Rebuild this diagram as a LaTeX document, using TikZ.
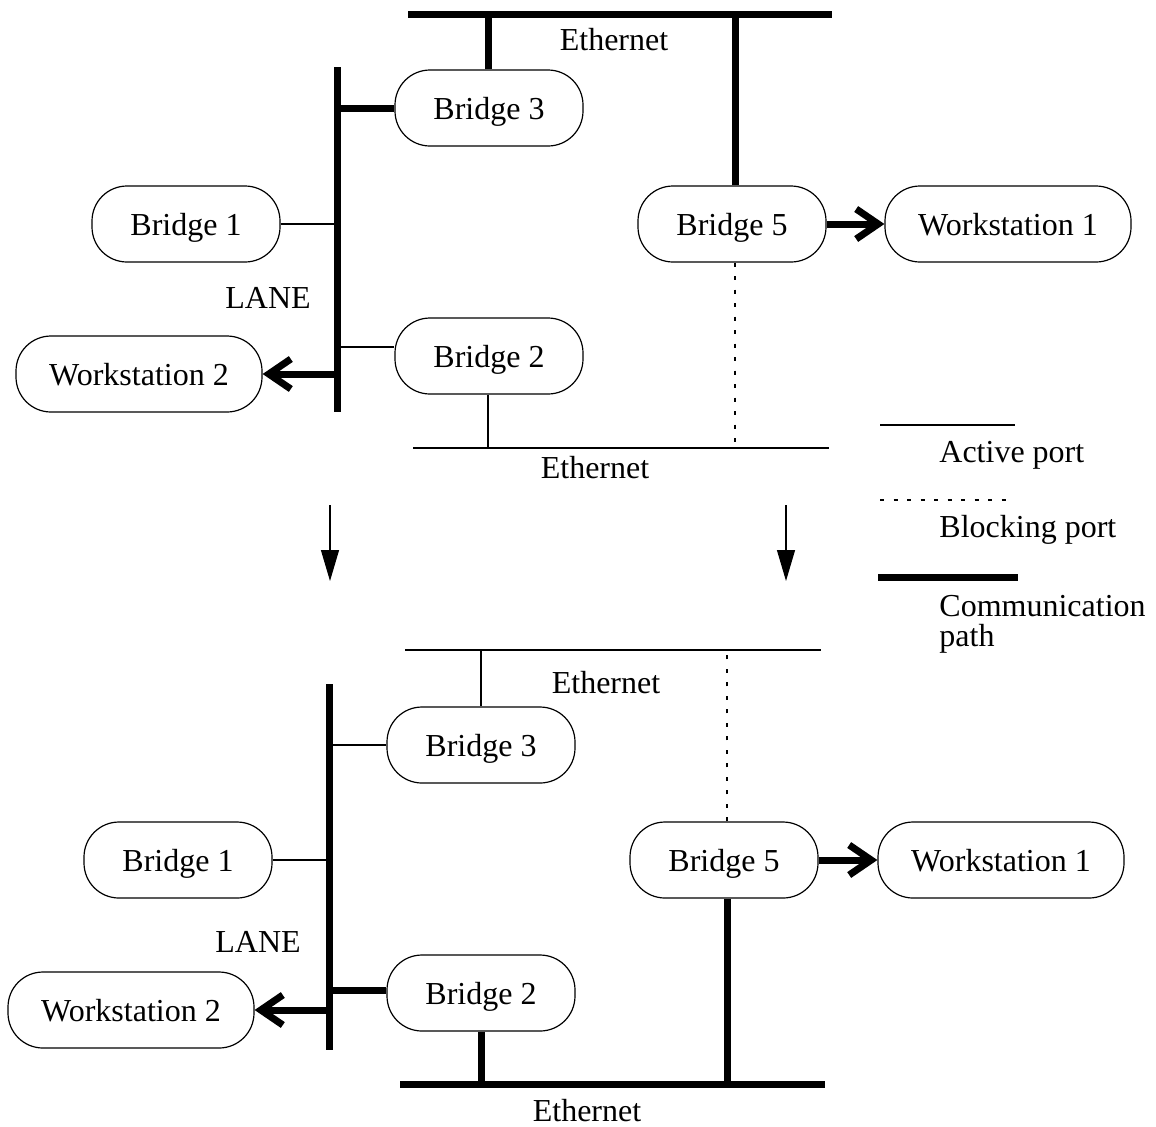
\documentclass[tikz,border=0pt]{standalone}
\usepackage{fontspec}
\setmainfont{Liberation Serif}
\usetikzlibrary{arrows.meta}
\newcommand{\labelfont}{\fontsize{16}{19}\selectfont}
\tikzset{
  box/.style={draw, line width=0.6pt, rectangle, rounded corners=17.5pt,
    minimum width=94pt, minimum height=38pt, inner xsep=0pt, inner ysep=0pt,
    text height=11pt, text depth=0pt, font=\labelfont},
  wsbox/.style={box, minimum width=123pt},
  txt/.style={font=\labelfont, inner sep=0pt},
  active/.style={line width=0.6pt},
  blocking/.style={line width=0.7pt, dash pattern=on 2pt off 4.75pt},
  commpath/.style={line width=3.5pt},
  sendto/.style={commpath, -{Straight Barb[length=11pt,width=15pt]}},
  flow/.style={line width=0.6pt, -{Triangle[length=15.5pt,width=9pt]}},
}
\begin{document}
\begin{tikzpicture}[x=0.5pt,y=-0.5pt]
\useasboundingbox (0,0) rectangle (1156,1126);

% ---------------- upper network ----------------
\node[box]   (Ab3) at (489,108) {Bridge 3};
\node[box]   (Ab1) at (186,224) {Bridge 1};
\node[box]   (Ab2) at (489,356) {Bridge 2};
\node[box]   (Ab5) at (732,224) {Bridge 5};
\node[wsbox] (Aw1) at (1008,224) {Workstation 1};
\node[wsbox] (Aw2) at (139,374) {Workstation 2};

% Ethernet segments and the LANE bus
\coordinate (AethTL) at (408,14);  \coordinate (AethTR) at (832,14);
\coordinate (AethBL) at (413,448); \coordinate (AethBR) at (829,448);
\coordinate (AlaneT) at (337,67);  \coordinate (AlaneB) at (337,412);
\draw[commpath] (AethTL) -- (AethTR);
\draw[active]   (AethBL) -- (AethBR);
\draw[commpath] (AlaneT) -- (AlaneB);
\node[txt] (AethTlab) at (614,40) {Ethernet};
\node[txt] (AethBlab) at (595,468) {Ethernet};
\node[txt] (Alanelab) at (268,298) {LANE};

% ports
\coordinate (Ab3up) at (Ab3.north -| 488,0);
\draw[commpath] (Ab3up) -- (Ab3up |- AethTL);
\draw[commpath] (AlaneT |- Ab3.west) -- (Ab3.west);
\draw[active]   (Ab1.east) -- (Ab1.east -| AlaneT);
\coordinate (Ab2port) at (337,347);
\draw[active]   (Ab2port) -- (Ab2port -| Ab2.west);
\coordinate (Ab2dn) at (Ab2.south -| 488,0);
\draw[active]   (Ab2dn) -- (Ab2dn |- AethBL);
\coordinate (Ab5up) at (Ab5.north -| 735,0);
\draw[commpath] (Ab5up) -- (Ab5up |- AethTL);
\coordinate (Ab5dn) at (Ab5.south -| 735,0);
\draw[blocking] (Ab5dn) -- (Ab5dn |- AethBL);
\coordinate (Aw2port) at (Aw2.east -| AlaneT);
\draw[sendto] (Aw2port) -- (Aw2.east);
\draw[sendto] (Ab5.east) -- (Aw1.west);

% ---------------- transition arrows ----------------
\coordinate (fl1s) at (330,505); \coordinate (fl1e) at (330,581);
\coordinate (fl2s) at (786,505); \coordinate (fl2e) at (786,581);
\draw[flow] (fl1s) -- (fl1e);
\draw[flow] (fl2s) -- (fl2e);

% ---------------- legend ----------------
\coordinate (lg1a) at (880,425); \coordinate (lg1b) at (1015,425);
\coordinate (lg2a) at (880,500); \coordinate (lg2b) at (1015,500);
\coordinate (lg3a) at (878,577); \coordinate (lg3b) at (1018,577);
\draw[active]   (lg1a) -- (lg1b);
\draw[blocking] (lg2a) -- (lg2b);
\draw[commpath] (lg3a) -- (lg3b);
\node[txt, anchor=west] (lgt1) at (939,455) {Active port};
\node[txt, anchor=west] (lgt2) at (939,530) {Blocking port};
\node[txt, anchor=west] (lgt3) at (939,606) {Communication};
\node[txt, anchor=west] (lgt4) at (939,639) {path};

% ---------------- lower network ----------------
\node[box]   (Bb3) at (481,745) {Bridge 3};
\node[box]   (Bb1) at (178,860) {Bridge 1};
\node[box]   (Bb2) at (481,993) {Bridge 2};
\node[box]   (Bb5) at (724,860) {Bridge 5};
\node[wsbox] (Bw1) at (1001,860) {Workstation 1};
\node[wsbox] (Bw2) at (131,1010) {Workstation 2};

\coordinate (BethTL) at (405,650);  \coordinate (BethTR) at (821,650);
\coordinate (BethBL) at (400,1084); \coordinate (BethBR) at (825,1084);
\coordinate (BlaneT) at (329,684);  \coordinate (BlaneB) at (329,1050);
\draw[active]   (BethTL) -- (BethTR);
\draw[commpath] (BethBL) -- (BethBR);
\draw[commpath] (BlaneT) -- (BlaneB);
\node[txt] (BethTlab) at (606,683) {Ethernet};
\node[txt] (BethBlab) at (587,1111) {Ethernet};
\node[txt] (Blanelab) at (258,942) {LANE};

\coordinate (Bb3up) at (Bb3.north -| 481,0);
\draw[active]   (Bb3up) -- (Bb3up |- BethTL);
\draw[active]   (BlaneT |- Bb3.west) -- (Bb3.west);
\draw[active]   (Bb1.east) -- (Bb1.east -| BlaneT);
\coordinate (Bb2port) at (329,990);
\draw[commpath] (Bb2port) -- (Bb2port -| Bb2.west);
\coordinate (Bb2dn) at (Bb2.south -| 481,0);
\draw[commpath] (Bb2dn) -- (Bb2dn |- BethBL);
\coordinate (Bb5up) at (Bb5.north -| 727,0);
\draw[blocking] (Bb5up) -- (Bb5up |- BethTL);
\coordinate (Bb5dn) at (Bb5.south -| 727,0);
\draw[commpath] (Bb5dn) -- (Bb5dn |- BethBL);
\coordinate (Bw2port) at (Bw2.east -| BlaneT);
\draw[sendto] (Bw2port) -- (Bw2.east);
\draw[sendto] (Bb5.east) -- (Bw1.west);
\end{tikzpicture}
\end{document}
